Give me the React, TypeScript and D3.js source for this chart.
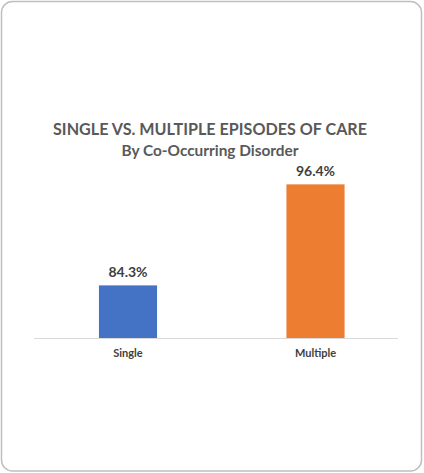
import React, { useEffect, useRef } from 'react';
import * as d3 from 'd3';

const categories = ['Single', 'Multiple'];
const values = [84.3, 96.4];
const barColors = ['#4472C4', '#ED7D31'];
const title = 'SINGLE VS. MULTIPLE EPISODES OF CARE';
const subtitle = 'By Co-Occurring Disorder';

const W = 424;
const H = 473;
const FONT = 'Lato, "Open Sans", sans-serif';

export default function App() {
  const svgRef = useRef<SVGSVGElement>(null);

  useEffect(() => {
    document.body.style.margin = '0';
    if (!svgRef.current) return;
    const svg = d3.select(svgRef.current);
    svg.selectAll('*').remove();

    // card border
    svg.append('rect')
      .attr('x', 1.5).attr('y', 1.5)
      .attr('width', W - 4).attr('height', H - 3.5)
      .attr('rx', 11)
      .attr('fill', '#fff')
      .attr('stroke', '#bfbfbf')
      .attr('stroke-width', 1.5);

    svg.append('text')
      .attr('x', 210).attr('y', 135)
      .attr('text-anchor', 'middle')
      .attr('font-family', FONT)
      .attr('font-weight', 700)
      .attr('font-size', 17.5)
      .attr('fill', '#595959')
      .attr('textLength', 314)
      .attr('lengthAdjust', 'spacingAndGlyphs')
      .text(title);

    svg.append('text')
      .attr('x', 210).attr('y', 155.5)
      .attr('text-anchor', 'middle')
      .attr('font-family', FONT)
      .attr('font-weight', 700)
      .attr('font-size', 15)
      .attr('fill', '#595959')
      .attr('textLength', 177)
      .attr('lengthAdjust', 'spacingAndGlyphs')
      .text(subtitle);

    const x = d3.scaleBand<string>()
      .domain(categories)
      .range([34.25, 409.25])
      .paddingInner(0.69)
      .paddingOuter(0.345);

    const y = d3.scaleLinear().domain([78, 98]).range([338, 171]);

    // axis line
    svg.append('line')
      .attr('x1', 34).attr('x2', 398)
      .attr('y1', y(78) + 0.5).attr('y2', y(78) + 0.5)
      .attr('stroke', '#d9d9d9')
      .attr('stroke-width', 1);

    const g = svg.append('g');
    categories.forEach((c, i) => {
      g.append('rect')
        .attr('x', x(c)!)
        .attr('y', y(values[i]))
        .attr('width', x.bandwidth())
        .attr('height', y(78) - y(values[i]))
        .attr('fill', barColors[i]);

      g.append('text')
        .attr('x', x(c)! + x.bandwidth() / 2)
        .attr('y', y(values[i]) - 8)
        .attr('text-anchor', 'middle')
        .attr('font-family', FONT)
        .attr('font-weight', 700)
        .attr('font-size', 14)
        .attr('fill', '#404040')
        .text(`${values[i].toFixed(1)}%`);

      g.append('text')
        .attr('x', x(c)! + x.bandwidth() / 2)
        .attr('y', 357)
        .attr('text-anchor', 'middle')
        .attr('font-family', FONT)
        .attr('font-weight', 700)
        .attr('font-size', 11)
        .attr('fill', '#404040')
        .text(c);
    });
  }, []);

  return <svg ref={svgRef} width={W} height={H} style={{ display: 'block' }} />;
}
